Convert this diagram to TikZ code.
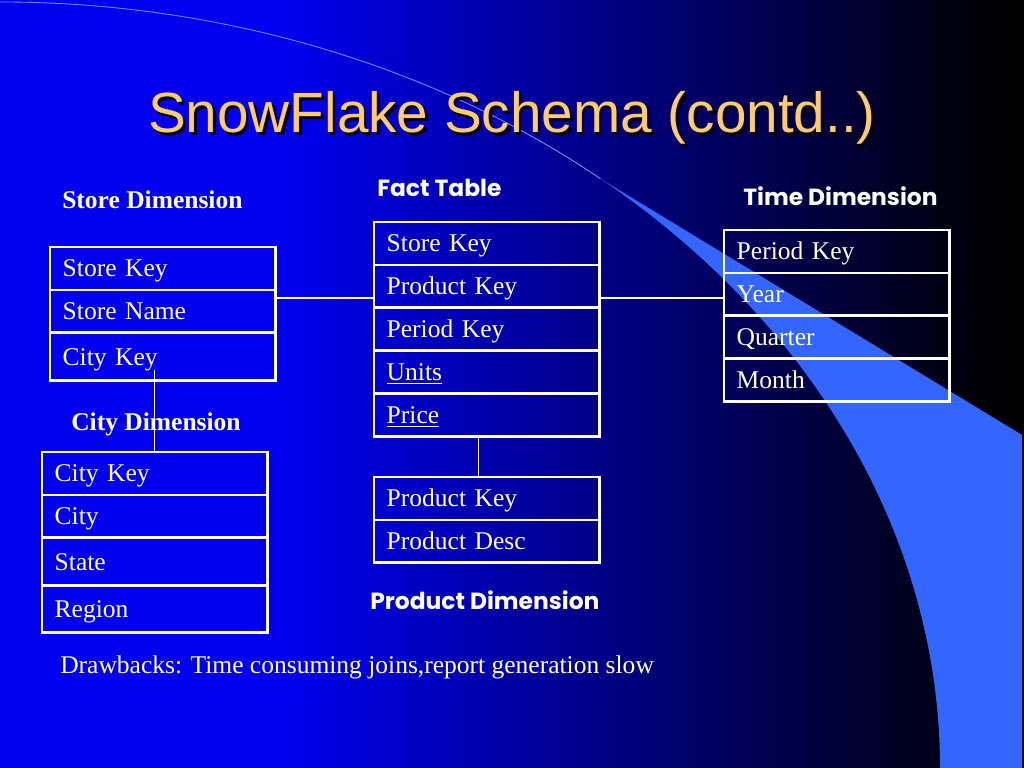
\documentclass[tikz,border=0pt]{standalone}
\usepackage{fontspec}
\setmainfont{Liberation Serif}
\newfontfamily\titlefont{Liberation Sans}
\newfontfamily\gothic{Poppins}
\usetikzlibrary{positioning, fit}

\definecolor{slideblue}{RGB}{0,0,238}
\definecolor{bandblue}{RGB}{51,102,255}
\definecolor{titlegold}{RGB}{255,204,102}
% the picture's box maps onto 25bp..75bp of the shading
\pgfdeclarehorizontalshading{slidebg}{100bp}{color(0bp)=(slideblue); color(39bp)=(slideblue); color(74bp)=(black); color(100bp)=(black)}

\begin{document}
\begin{tikzpicture}[x=0.0248cm, y=0.0248cm,
    fieldbox/.style={draw=white, line width=1pt, text=white, text width=4.96cm, inner xsep=0.298cm, inner ysep=0pt,
        minimum height=1.03cm, text height=12pt, text depth=0pt, align=left, font=\fontsize{18}{20}\selectfont},
    tall/.style={minimum height=1.141cm},
    tableframe/.style={draw=white, line width=2pt, inner sep=0pt},
    joinline/.style={draw=white, line width=0.9pt},
    serifhead/.style={anchor=base west, inner sep=0pt, text=white, font=\bfseries\fontsize{18}{20}\selectfont},
    gothichead/.style={anchor=base west, inner sep=0pt, text=white, font=\gothic\bfseries\fontsize{16.5}{19}\selectfont}]

% background
\useasboundingbox (0,0) rectangle (1024,768);
\fill[shading=slidebg] (0,0) rectangle (1024,768);
\fill[bandblue] (50.3:940 and 766) -- (1022,333) -- (1022,0) -- (940,0)
    arc[start angle=0, end angle=50.3, x radius=940, y radius=766] -- cycle;
\draw[bandblue!70!white, line width=0.6pt] (0,766) arc[start angle=90, end angle=50.3, x radius=940, y radius=766];

% title
\node[anchor=base, inner sep=0pt, text=black, font=\titlefont\fontsize{40}{44}\selectfont] (titleshadow) at (514.5,632.5) {SnowFlake Schema (contd..)};
\node[anchor=base, inner sep=0pt, text=titlegold, font=\titlefont\fontsize{40}{44}\selectfont] (title) at (512,635) {SnowFlake Schema (contd..)};

% store dimension
\node[serifhead] (storeHead) at (62,559) {Store Dimension};
\node[fieldbox, anchor=north west] (s1) at (50,521) {Store Key};
\node[fieldbox, below=0pt of s1] (s2) {Store Name};
\node[fieldbox, tall, below=0pt of s2] (s3) {City Key};
\node[tableframe, fit=(s1)(s2)(s3)] (storeTab) {};

% fact table
\node[gothichead] (factHead) at (377,571) {Fact Table};
\node[fieldbox, anchor=north west] (f1) at (374,546) {Store Key};
\node[fieldbox, below=0pt of f1] (f2) {Product Key};
\node[fieldbox, below=0pt of f2] (f3) {Period Key};
\node[fieldbox, below=0pt of f3] (f4) {\underline{Units}};
\node[fieldbox, below=0pt of f4] (f5) {\underline{Price}};
\node[tableframe, fit=(f1)(f5)] (factTab) {};

% time dimension
\node[gothichead] (timeHead) at (743,562) {Time Dimension};
\node[fieldbox, anchor=north west] (t1) at (724,538) {Period Key};
\node[fieldbox, below=0pt of t1] (t2) {Year};
\node[fieldbox, below=0pt of t2] (t3) {Quarter};
\node[fieldbox, below=0pt of t3] (t4) {Month};
\node[tableframe, fit=(t1)(t4)] (timeTab) {};

% city dimension
\node[serifhead] (cityHead) at (71,337) {City Dimension};
\node[fieldbox, anchor=north west] (c1) at (42,316) {City Key};
\node[fieldbox, below=0pt of c1] (c2) {City};
\node[fieldbox, tall, below=0pt of c2] (c3) {State};
\node[fieldbox, tall, below=0pt of c3] (c4) {Region};
\node[tableframe, fit=(c1)(c4)] (cityTab) {};

% product dimension
\node[fieldbox, anchor=north west] (p1) at (374,291) {Product Key};
\node[fieldbox, below=0pt of p1] (p2) {Product Desc};
\node[tableframe, fit=(p1)(p2)] (prodTab) {};
\node[gothichead] (prodHead) at (370,158) {Product Dimension};

% joins
\coordinate (joinrow) at (0,470);
\draw[joinline] (storeTab.east |- joinrow) -- (factTab.west |- joinrow);
\draw[joinline] (factTab.east |- joinrow) -- (timeTab.west |- joinrow);
\draw[joinline] ([yshift=0.3cm]storeTab.south -| cityTab.north) -- (cityTab.north);
\draw[joinline] ([xshift=-0.21cm]factTab.south) -- ([xshift=-0.21cm]prodTab.north);

\node[anchor=base west, inner sep=0pt, text=white, font=\fontsize{18}{20}\selectfont] (drawbacks) at (60,94)
    {Drawbacks: Time consuming joins,report generation slow};

\end{tikzpicture}
\end{document}
